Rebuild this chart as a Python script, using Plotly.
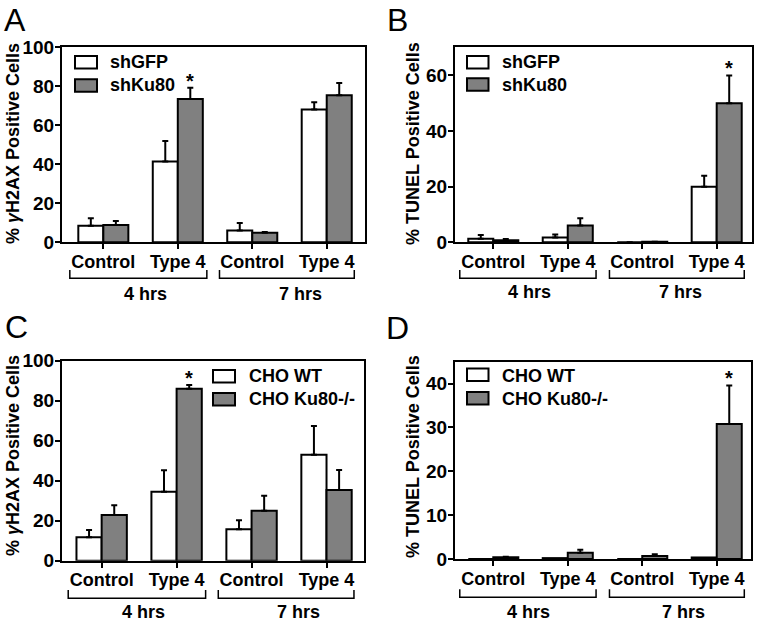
import plotly.graph_objects as go

W, H = 757, 623

# ---------------- data ----------------
categories = ["Control", "Type 4", "Control", "Type 4"]
time_labels = ["4 hrs", "7 hrs"]

# Panel A: % gammaH2AX positive cells (shRNA)
a_series = ["shGFP", "shKu80"]
a_shGFP = [8.5, 41.5, 6.1, 68.1]
a_shGFP_err = [3.8, 10.4, 3.8, 3.7]
a_shKu80 = [8.9, 73.5, 4.9, 75.4]
a_shKu80_err = [2.0, 5.7, 0.4, 6.3]

# Panel B: % TUNEL positive cells (shRNA)
b_series = ["shGFP", "shKu80"]
b_shGFP = [1.3, 1.7, 0.0, 19.9]
b_shGFP_err = [1.3, 1.1, 0.0, 4.0]
b_shKu80 = [0.7, 6.0, 0.2, 49.9]
b_shKu80_err = [0.5, 2.6, 0.0, 10.0]

# Panel C: % gammaH2AX positive cells (CHO)
c_series = ["CHO WT", "CHO Ku80-/-"]
c_WT = [11.7, 34.5, 15.7, 53.0]
c_WT_err = [3.6, 10.7, 4.5, 14.3]
c_Ku80 = [22.8, 86.0, 25.0, 35.3]
c_Ku80_err = [4.9, 1.8, 7.5, 10.0]

# Panel D: % TUNEL positive cells (CHO)
d_series = ["CHO WT", "CHO Ku80-/-"]
d_WT = [0.0, 0.2, 0.0, 0.35]
d_WT_err = None
d_Ku80 = [0.4, 1.4, 0.7, 30.8]
d_Ku80_err = [0.1, 0.7, 0.4, 8.8]

# significance markers: (category index, series index)
a_sig = [(1, 1)]
b_sig = [(3, 1)]
c_sig = [(1, 1)]
d_sig = [(3, 1)]

y_titles = ["% <i>γ</i>H2AX Positive Cells", "% TUNEL Positive Cells"]

# ---------------- styling ----------------
FONT = "Liberation Sans, Arial, Helvetica, sans-serif"
WHITE = "#ffffff"
GRAY = "#808080"
BW = 0.336  # bar width in category units


def px(x):
    return x / W


def py(y):
    return 1 - y / H


fig = go.Figure()
shapes = []
annotations = []

panels = [
    dict(key="", letter="A", lx=15, ly=20, series=a_series,
         vals=[a_shGFP, a_shKu80], errs=[a_shGFP_err, a_shKu80_err], sig=a_sig,
         x0=62, x1=365, top=47.3, bot=242.3, xr=[-0.555, 3.514], yr=[0, 100],
         ticks=[0, 20, 40, 60, 80, 100], title=y_titles[0], tx=13, ty=144,
         leg_box=(75, 97, [56, 79.3], 12.5), leg_tx=108, leg_ty=[62, 85],
         br=[(-0.45, 1.39), (1.56, 3.37)], br_y=(270, 278.3),
         hrs_x=[0.56, 2.65], hrs_y=294),
    dict(key="2", letter="B", lx=398, ly=20, series=b_series,
         vals=[b_shGFP, b_shKu80], errs=[b_shGFP_err, b_shKu80_err], sig=b_sig,
         x0=455, x1=752, top=47.3, bot=242.3, xr=[-0.514, 3.474], yr=[0, 70],
         ticks=[0, 20, 40, 60], title=y_titles[1], tx=413, ty=144,
         leg_box=(467, 488.5, [56, 78.3], 12.5), leg_tx=500, leg_ty=[62.5, 85],
         br=[(-0.45, 1.38), (1.56, 3.37)], br_y=(270, 278.3),
         hrs_x=[0.48, 2.52], hrs_y=292),
    dict(key="3", letter="C", lx=16, ly=327, series=c_series,
         vals=[c_WT, c_Ku80], errs=[c_WT_err, c_Ku80_err], sig=c_sig,
         x0=62, x1=364, top=360.7, bot=560.7, xr=[-0.529, 3.5], yr=[0, 100],
         ticks=[0, 20, 40, 60, 80, 100], title=y_titles[0], tx=13, ty=456,
         leg_box=(213, 235, [370, 393], 12.5), leg_tx=247, leg_ty=[376, 398.5],
         br=[(-0.446, 1.387), (1.556, 3.366)], br_y=(590, 598.3),
         hrs_x=[0.555, 2.63], hrs_y=612),
    dict(key="4", letter="D", lx=398, ly=328, series=d_series,
         vals=[d_WT, d_Ku80], errs=[d_WT_err, d_Ku80_err], sig=d_sig,
         x0=455, x1=751, top=361.7, bot=559, xr=[-0.514, 3.46], yr=[0, 45],
         ticks=[0, 10, 20, 30, 40], title=y_titles[1], tx=413, ty=457,
         leg_box=(467, 488.5, [368.5, 392], 12.5), leg_tx=500, leg_ty=[375.7, 398.5],
         br=[(-0.45, 1.38), (1.56, 3.37)], br_y=(589.3, 597.3),
         hrs_x=[0.47, 2.55], hrs_y=612),
]

xs = list(range(len(categories)))
fills = [WHITE, GRAY]
offsets = [-BW, 0.0]

for p in panels:
    k = p["key"]
    xa, ya = "x" + k, "y" + k
    for si in range(2):
        vals = p["vals"][si]
        errs = p["errs"][si]
        tr = dict(
            x=xs, y=vals, width=[BW] * len(xs), offset=[offsets[si]] * len(xs),
            marker=dict(color=fills[si], line=dict(color="black", width=2)),
            showlegend=False, name=p["series"][si], xaxis=xa, yaxis=ya,
        )
        if errs is not None:
            tr["error_y"] = dict(type="data", symmetric=False, array=errs,
                                 arrayminus=[0] * len(errs), color="black",
                                 thickness=2, width=3)
        fig.add_trace(go.Bar(**tr))

    # axes
    xkey = "xaxis" + k
    ykey = "yaxis" + k
    fig.layout[xkey] = dict(
        domain=[px(p["x0"]), px(p["x1"])], range=p["xr"], anchor=ya,
        tickmode="array", tickvals=xs, ticktext=categories,
        ticks="outside", ticklen=5, tickwidth=2, tickcolor="black",
        ticklabelstandoff=-3,
        showline=True, linewidth=2, linecolor="black", mirror=True,
        showgrid=False, zeroline=False, automargin=False, fixedrange=True,
        tickfont=dict(family=FONT, size=18, color="black", weight="bold"),
    )
    fig.layout[ykey] = dict(
        domain=[py(p["bot"]), py(p["top"])], range=p["yr"], anchor=xa,
        tickmode="array", tickvals=p["ticks"],
        ticks="outside", ticklen=5, tickwidth=2, tickcolor="black",
        ticklabelstandoff=-3,
        showline=True, linewidth=2, linecolor="black", mirror=True,
        showgrid=False, zeroline=False, automargin=False, fixedrange=True,
        tickfont=dict(family=FONT, size=19, color="black", weight="bold"),
    )

    # panel letter
    annotations.append(dict(text=p["letter"], x=px(p["lx"]), y=py(p["ly"]),
                            xref="paper", yref="paper", xanchor="center",
                            yanchor="middle", showarrow=False,
                            font=dict(family=FONT, size=32, color="black")))
    # y title
    annotations.append(dict(text="<b>" + p["title"] + "</b>", x=px(p["tx"]),
                            y=py(p["ty"]), xref="paper", yref="paper",
                            xanchor="center", yanchor="middle", textangle=-90,
                            showarrow=False,
                            font=dict(family=FONT, size=18, color="black")))
    # legend (drawn manually)
    bx0, bx1, bys, bh = p["leg_box"]
    for si in range(2):
        shapes.append(dict(type="rect", xref="paper", yref="paper",
                           x0=px(bx0), x1=px(bx1), y0=py(bys[si] + bh), y1=py(bys[si]),
                           fillcolor=fills[si], line=dict(color="black", width=2)))
        annotations.append(dict(text=p["series"][si], x=px(p["leg_tx"]),
                                y=py(p["leg_ty"][si]), xref="paper", yref="paper",
                                xanchor="left", yanchor="middle", showarrow=False,
                                font=dict(family=FONT, size=18, color="black",
                                          weight="bold")))
    # brackets and time labels
    yt, yb = p["br_y"]
    for bi, (b0, b1) in enumerate(p["br"]):
        shapes.append(dict(type="path", xref=xa, yref="paper",
                           path=f"M {b0},{py(yt)} L {b0},{py(yb)} L {b1},{py(yb)} L {b1},{py(yt)}",
                           line=dict(color="black", width=1.5)))
        annotations.append(dict(text=time_labels[bi], x=p["hrs_x"][bi], y=py(p["hrs_y"]),
                                xref=xa, yref="paper", xanchor="center",
                                yanchor="middle", showarrow=False,
                                font=dict(family=FONT, size=18, color="black",
                                          weight="bold")))
    # significance asterisks
    for ci, si in p["sig"]:
        v = p["vals"][si][ci]
        e = p["errs"][si][ci] if p["errs"][si] is not None else 0
        annotations.append(dict(text="*", x=ci + offsets[si] + BW / 2, y=v + e,
                                xref=xa, yref=ya, xanchor="center",
                                yanchor="bottom", yshift=-6, showarrow=False,
                                font=dict(family=FONT, size=20, color="black",
                                          weight="bold")))

fig.update_layout(
    width=W, height=H, autosize=False,
    margin=dict(l=0, r=0, t=0, b=0),
    paper_bgcolor="white", plot_bgcolor="white",
    barmode="overlay", showlegend=False,
    shapes=shapes, annotations=annotations,
    font=dict(family=FONT, color="black"),
)

fig.write_html("out.html", config={"displayModeBar": False},
               post_script="document.body.style.margin='0';document.body.style.overflow='hidden';")
